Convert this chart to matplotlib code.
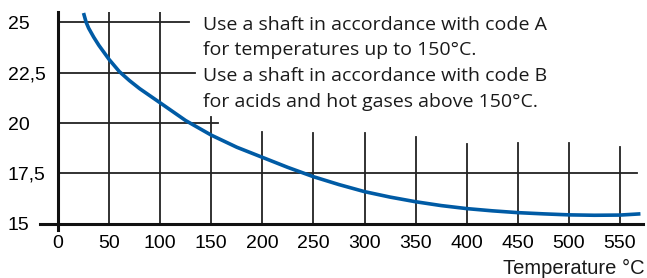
import numpy as np
import matplotlib.pyplot as plt

# curve (temperature in degC -> value)
temps = [25, 27.5, 30, 35, 40, 50, 60, 70, 80, 90, 100, 125, 150, 175, 200, 225,
         250, 275, 300, 325, 350, 375, 400, 425, 450, 475, 500, 525, 550, 570]
values = [25.45, 25.0, 24.7, 24.25, 23.85, 23.15, 22.55, 22.1, 21.7, 21.35, 21.0,
          20.12, 19.4, 18.8, 18.3, 17.8, 17.34, 16.95, 16.6, 16.33, 16.1, 15.91,
          15.76, 15.65, 15.56, 15.5, 15.45, 15.43, 15.44, 15.5]

xticks = [0, 50, 100, 150, 200, 250, 300, 350, 400, 450, 500, 550]
yticks = [15, 17.5, 20, 22.5, 25]
ylabels = ['15', '17,5', '20', '22,5', '25']

notes = ['Use a shaft in accordance with code A',
         'for temperatures up to 150°C.',
         'Use a shaft in accordance with code B',
         'for acids and hot gases above 150°C.']

W, H = 647, 278
fig = plt.figure(figsize=(W / 100, H / 100), dpi=100)
ax = fig.add_axes([40 / W, (H - 230) / H, 603 / W, 218 / H])
ax.set_xlim(-17.6, 572.5)
ax.set_ylim(14.7, 25.5)

grid_kw = dict(color='#222222', lw=1.3, zorder=1)
# horizontal grid lines stop short where the notes sit
hl_ends = [566.6, 156.5, 134, 128]
for y, x1 in zip(yticks[1:], hl_ends):
    ax.plot([0, x1], [y, y], **grid_kw)
vl_tops = [25.5, 25.5, 20.3, 19.55, 19.5, 19.5, 19.3, 18.96, 19.0, 19.0, 18.8]
for x, top in zip(xticks[1:], vl_tops):
    ax.plot([x, x], [15, top], **grid_kw)

ax.plot(temps, values, color='#005ba5', lw=2.6, solid_capstyle='butt', zorder=3)

for s in ['top', 'right']:
    ax.spines[s].set_visible(False)
ax.spines['left'].set_position(('data', 0))
ax.spines['bottom'].set_position(('data', 15))
for s in ['left', 'bottom']:
    ax.spines[s].set_linewidth(2.2)
    ax.spines[s].set_color('#111111')

tick_font = dict(family='Liberation Sans', size=14)
ax.set_xticks(xticks)
ax.set_xticklabels([str(t) for t in xticks], **tick_font)
ax.set_yticks(yticks)
ax.set_yticklabels(ylabels, ha='left', **tick_font)
ax.tick_params(axis='x', length=0, pad=8)
ax.tick_params(axis='y', length=0, pad=36)

fig.text(645 / W, 1 - 268 / H, 'Temperature °C', ha='right', va='center',
         color='#1a1a1a', family='Liberation Sans', size=14.5)

for i, line in enumerate(notes):
    fig.text(203 / W, 1 - [25, 50, 76, 102][i] / H, line, ha='left', va='center',
             family='Open Sans', size=14, color='#1a1a1a')

fig.savefig('out.png', dpi=100)
